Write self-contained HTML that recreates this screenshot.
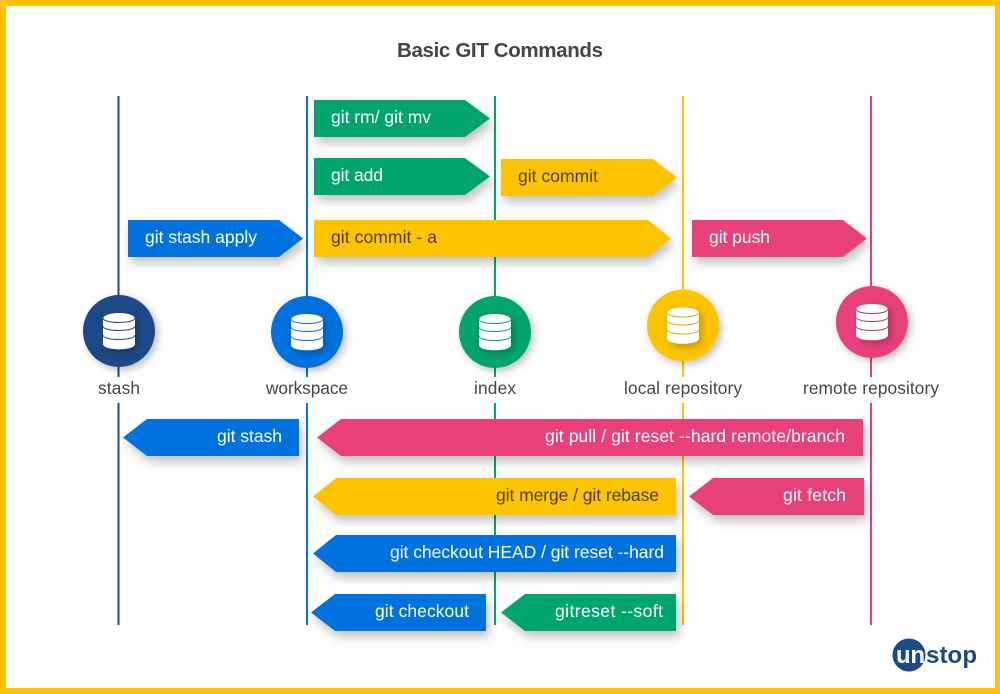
<!DOCTYPE html>
<html>
<head>
<meta charset="utf-8">
<style>
html,body{margin:0;padding:0;background:#fff;width:1000px;height:694px;overflow:hidden}
svg{display:block}
text{font-family:"Liberation Sans",sans-serif;font-size:17.500px}
.w{fill:#fff}
.d{fill:#4a3f10}
.l{fill:#444;font-size:17.300px}
</style>
</head>
<body>
<svg width="1000" height="694" viewBox="0 0 1000 694" xmlns="http://www.w3.org/2000/svg">
<defs>
<filter id="s" x="-20%" y="-40%" width="140%" height="220%">
<feDropShadow dx="3" dy="6" stdDeviation="5" flood-color="#000" flood-opacity="0.24"/>
</filter>
<filter id="c" x="-30%" y="-30%" width="170%" height="170%">
<feDropShadow dx="3" dy="3" stdDeviation="4" flood-color="#000" flood-opacity="0.25"/>
</filter>
<g id="db">
<path d="M-16 -12 C-16 -20 16 -20 16 -12 V13 C16 20 -16 20 -16 13 Z" fill="#fff"/>
</g>
</defs>

<rect width="1000" height="694" fill="#FFC400"/>
<rect x="6" y="6" width="989" height="682" fill="#fff"/>

<text x="397" y="57" textLength="206" lengthAdjust="spacing" style="font-size:20.500px;font-weight:bold;fill:#444">Basic GIT Commands</text>

<!-- vertical lines -->
<g stroke-width="2" fill="none">
<path d="M118.500 96V377M118.500 403V625" stroke="#1c4a87"/>
<path d="M307 96V377M307 403V625" stroke="#0672e0"/>
<path d="M495 96V377M495 403V625" stroke="#04a56c"/>
<path d="M683 96V377M683 403V625" stroke="#FFC400"/>
<path d="M871 96V377M871 403V625" stroke="#e93f7c"/>
</g>

<!-- right arrows -->
<g filter="url(#s)">
<polygon points="314,100 465,100 490,118.500 465,137 314,137" fill="#04a56c"/>
<polygon points="314,158 465,158 490,176.500 465,195 314,195" fill="#04a56c"/>
<polygon points="501,159 653,159 677,177.500 653,196 501,196" fill="#FFC400"/>
<polygon points="314,220 648,220 671,238.500 648,257 314,257" fill="#FFC400"/>
<polygon points="692,220 843,220 867,238.500 843,257 692,257" fill="#e93f7c"/>
<polygon points="128,220 279,220 303,238.500 279,257 128,257" fill="#0672e0"/>
</g>
<!-- left arrows -->
<g filter="url(#s)">
<polygon points="123,437.500 147,419 299,419 299,456 147,456" fill="#0672e0"/>
<polygon points="317,437.500 341,419 863,419 863,456 341,456" fill="#e93f7c"/>
<polygon points="313,496.500 336,478 676,478 676,515 336,515" fill="#FFC400"/>
<polygon points="689,496.500 713,478 864,478 864,515 713,515" fill="#e93f7c"/>
<polygon points="313,553.500 336,535 676,535 676,572 336,572" fill="#0672e0"/>
<polygon points="311,612.500 335,594 486,594 486,631 335,631" fill="#0672e0"/>
<polygon points="501,612.500 525,594 676,594 676,631 525,631" fill="#04a56c"/>
</g>

<!-- arrow labels -->
<text class="w" x="331" y="123" textLength="100" lengthAdjust="spacing">git rm/ git mv</text>
<text class="w" x="331" y="181" textLength="52" lengthAdjust="spacing">git add</text>
<text class="d" x="518" y="182" textLength="80" lengthAdjust="spacing">git commit</text>
<text class="d" x="331" y="243" textLength="106" lengthAdjust="spacing">git commit - a</text>
<text class="w" x="709" y="243" textLength="61" lengthAdjust="spacing">git push</text>
<text class="w" x="145" y="243" textLength="112" lengthAdjust="spacing">git stash apply</text>
<text class="w" x="217" y="442" textLength="65" lengthAdjust="spacing">git stash</text>
<text class="w" x="545" y="442" textLength="300" lengthAdjust="spacing">git pull / git reset --hard remote/branch</text>
<text class="d" x="496" y="501" textLength="163" lengthAdjust="spacing">git merge / git rebase</text>
<text class="w" x="783" y="501" textLength="63" lengthAdjust="spacing">git fetch</text>
<text class="w" x="390" y="558" textLength="274" lengthAdjust="spacing">git checkout HEAD / git reset --hard</text>
<text class="w" x="375" y="617" textLength="94" lengthAdjust="spacing">git checkout</text>
<text class="w" x="555" y="617" textLength="108" lengthAdjust="spacing">gitreset --soft</text>

<!-- nodes -->
<g transform="translate(119,331)">
<circle r="36" fill="#1c4a87" filter="url(#c)"/>
<use href="#db" filter="url(#c)"/>
<path d="M-16 -13C-16 -7 16 -7 16 -13M-16 -5C-16 1 16 1 16 -5M-16 4C-16 10 16 10 16 4" stroke="#1c4a87" stroke-width="1" fill="none"/>
</g>
<g transform="translate(307,332)">
<circle r="36" fill="#0672e0" filter="url(#c)"/>
<use href="#db" filter="url(#c)"/>
<path d="M-16 -13C-16 -7 16 -7 16 -13M-16 -5C-16 1 16 1 16 -5M-16 4C-16 10 16 10 16 4" stroke="#0672e0" stroke-width="1" fill="none"/>
</g>
<g transform="translate(495,332)">
<circle r="36" fill="#04a56c" filter="url(#c)"/>
<use href="#db" filter="url(#c)"/>
<path d="M-16 -13C-16 -7 16 -7 16 -13M-16 -5C-16 1 16 1 16 -5M-16 4C-16 10 16 10 16 4" stroke="#04a56c" stroke-width="1" fill="none"/>
</g>
<g transform="translate(683,325.500)">
<circle r="36" fill="#FFC400" filter="url(#c)"/>
<use href="#db" filter="url(#c)"/>
<path d="M-16 -13C-16 -7 16 -7 16 -13M-16 -5C-16 1 16 1 16 -5M-16 4C-16 10 16 10 16 4" stroke="#e0a800" stroke-width="1" fill="none"/>
</g>
<g transform="translate(872,322)">
<circle r="36" fill="#e93f7c" filter="url(#c)"/>
<use href="#db" filter="url(#c)"/>
<path d="M-16 -13C-16 -7 16 -7 16 -13M-16 -5C-16 1 16 1 16 -5M-16 4C-16 10 16 10 16 4" stroke="#b8386a" stroke-width="1" fill="none"/>
</g>

<!-- node labels -->
<text class="l" x="98" y="394" textLength="42" lengthAdjust="spacing">stash</text>
<text class="l" x="266" y="394" textLength="82" lengthAdjust="spacing">workspace</text>
<text class="l" x="474" y="394" textLength="42" lengthAdjust="spacing">index</text>
<text class="l" x="624" y="394" textLength="118" lengthAdjust="spacing">local repository</text>
<text class="l" x="803" y="394" textLength="136" lengthAdjust="spacing">remote repository</text>

<!-- logo -->
<circle cx="909" cy="655" r="16.500" fill="#1c4a87"/>
<text x="896" y="663" textLength="29" lengthAdjust="spacing" style="font-size:24px;font-weight:bold;fill:#fff">un</text>
<text x="926" y="663" textLength="51" lengthAdjust="spacing" style="font-size:24px;font-weight:bold;fill:#1c4a87">stop</text>
</svg>
</body>
</html>
